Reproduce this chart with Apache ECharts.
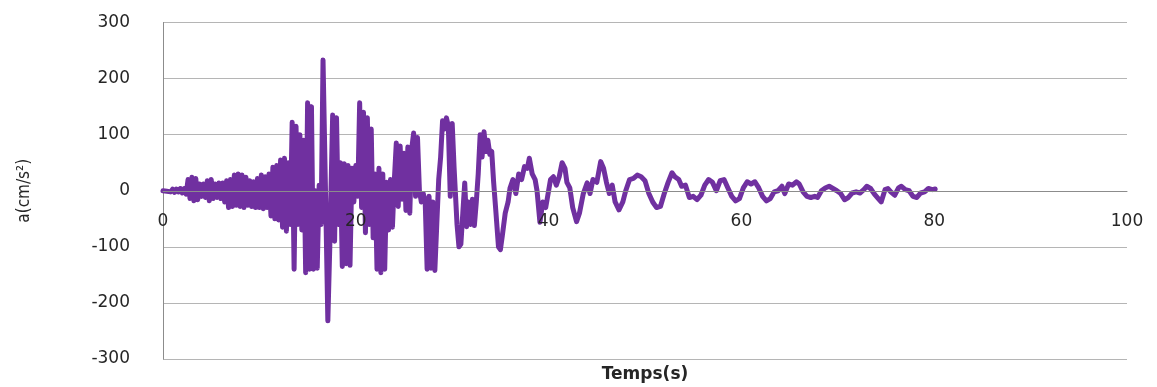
<!DOCTYPE html>
<html>
<head>
<meta charset="utf-8">
<script src="https://cdn.jsdelivr.net/npm/echarts@6/dist/echarts.min.js"></script>
<style>
html,body{margin:0;padding:0;background:#fff;}
#chart{width:1157px;height:387px;}
</style>
</head>
<body>
<div id="chart"></div>
<script>
// Time (s)
const times = [
0,0.2,0.4,0.6,0.8,1.0,1.2,1.4,1.6,1.8,2.0,2.2,2.4,
2.6,2.8,3.0,3.2,3.4,3.6,3.8,4.0,4.2,4.4,4.6,4.8,5.0,5.2,5.4,5.6,5.8,6.0,6.2,6.4,6.6,6.8,7.0,7.2,7.4,7.6,7.8,8.0,8.2,8.4,8.6,8.8,9.0,9.2,9.4,9.6,9.8,10.0,
10.2,10.4,10.6,10.8,11.0,11.2,11.4,11.6,11.8,12.0,12.2,12.4,12.6,12.8,13.0,13.2,13.4,13.6,13.8,14.0,14.2,14.4,14.6,14.8,15.0,15.2,15.4,15.6,15.8,16.0,16.2,16.4,16.6,16.9,17.1,17.3,17.6,17.8,18.0,18.2,18.4,18.6,18.8,19.0,19.2,19.4,19.6,19.8,20.0,
20.2,20.4,20.6,20.8,21.0,21.2,21.4,21.6,21.8,22.0,22.2,22.4,22.6,22.8,23.0,23.2,23.4,23.6,23.8,24.0,24.2,24.4,24.6,24.8,25.0,25.2,25.4,25.6,25.8,26.0,26.2,26.4,26.6,26.8,27.0,27.2,27.4,27.6,27.8,28.0,28.2,28.4,28.6,28.8,29.0,29.2,29.4,29.6,29.8,30.0,
30.2,30.5,30.7,30.9,31.1,31.3,31.5,31.7,31.9,32.1,32.3,32.5,32.7,32.9,33.1,33.3,33.5,33.7,33.9,34.1,34.3,34.5,34.8,35.0,35.2,35.5,35.8,36.0,36.3,36.6,36.9,37.2,37.5,37.8,38.0,38.3,38.6,38.8,39.1,39.4,39.7,39.9,
40.2,40.5,40.8,41.1,41.4,41.7,41.9,42.2,42.5,42.9,43.2,43.6,44.0,44.3,44.6,45.0,45.4,45.7,46.0,46.3,46.6,46.9,47.3,47.7,48.0,48.4,48.8,49.2,49.6,
50.0,50.4,50.8,51.2,51.6,52.0,52.4,52.8,53.1,53.5,53.8,54.2,54.6,55.0,55.4,55.8,56.2,56.6,57.0,57.4,57.8,58.2,58.6,59.0,59.4,59.8,
60.2,60.6,61.0,61.4,61.8,62.2,62.6,63.0,63.4,63.8,64.2,64.5,64.9,65.3,65.7,66.0,66.4,66.8,67.2,67.6,67.9,68.3,68.7,69.1,69.5,69.9,
70.3,70.7,71.1,71.5,71.9,72.3,72.7,73.0,73.4,73.8,74.2,74.5,74.9,75.2,75.5,75.9,76.3,76.6,77.0,77.4,77.8,78.2,78.6,79.0,79.4,79.8,80.1
];
// Acceleration (cm/s²)
const accel = [
0,1,-1,2,-2,3,-3,3,-2,4,-4,4,-6,
20,-14,24,-18,22,-16,12,-10,12,-12,18,-18,20,-14,12,-12,14,-14,14,-20,18,-30,20,-28,28,-26,30,-28,28,-30,24,-26,18,-28,16,-30,22,-30,
28,-32,25,-30,30,-45,42,-50,45,-52,55,-65,58,-72,50,-60,122,-140,115,-60,100,-70,90,-146,157,-140,150,-140,0,-138,10,-60,233,-40,-232,-100,135,-90,130,-60,50,-135,48,-130,45,-133,40,-20,45,
-10,157,-30,140,-75,130,-60,110,-84,30,-140,40,-146,30,-140,15,-70,20,-65,20,85,-28,80,-15,67,-35,78,-40,75,103,-10,95,0,-20,-5,-20,-140,-10,-138,-20,-142,-60,20,60,125,110,130,115,-10,120,
40,-60,-100,-95,-40,14,-64,-20,-60,-15,-62,-20,30,100,60,105,70,90,65,70,15,-30,-100,-105,-80,-40,-20,5,20,-5,30,20,43,40,58,30,20,0,-56,-20,-30,-10,
20,25,10,25,50,40,15,5,-30,-55,-40,-5,14,-5,20,15,52,40,15,-5,10,-20,-34,-20,0,20,22,28,25,
18,-5,-20,-30,-28,-5,15,32,25,20,8,10,-12,-10,-16,-8,10,20,15,0,18,20,5,-10,-18,-14,
5,16,12,16,5,-10,-18,-14,-2,0,8,-5,12,10,16,12,-2,-10,-12,-10,-12,0,5,8,4,0,
-5,-16,-12,-4,-2,-4,2,8,4,-6,-14,-20,2,4,-2,-8,5,8,2,0,-10,-12,-4,-2,4,2,3
];
const xTicks = [0, 20, 40, 60, 80, 100];
const yTicks = [-300, -200, -100, 0, 100, 200, 300];

const data = times.map((t, i) => [t, accel[i]]);

const chart = echarts.init(document.getElementById('chart'), null, {renderer: 'canvas'});
chart.setOption({
  animation: false,
  backgroundColor: '#ffffff',
  grid: {left: 163, right: 30, top: 22.5, bottom: 28, containLabel: false, outerBoundsMode: 'none'},
  xAxis: {
    type: 'value',
    position: 'bottom',
    offset: -168,
    z: 10,
    min: xTicks[0], max: xTicks[xTicks.length - 1], interval: 20,
    name: 'Temps(s)',
    nameLocation: 'middle',
    nameGap: 175,
    nameTextStyle: {fontFamily: 'DejaVu Sans', fontWeight: 'bold', fontSize: 17, color: '#262626'},
    axisLine: {show: true, onZero: false, lineStyle: {color: '#8c8c8c', width: 1}},
    axisTick: {show: false},
    splitLine: {show: false},
    axisLabel: {margin: 22, fontFamily: 'DejaVu Sans', fontSize: 17, color: '#262626'}
  },
  yAxis: {
    type: 'value',
    min: yTicks[0], max: yTicks[yTicks.length - 1], interval: 100,
    name: 'a(cm/s²)',
    nameLocation: 'middle',
    nameGap: 130,
    nameRotate: 90,
    nameTextStyle: {fontFamily: "'Liberation Sans Narrow', 'DejaVu Sans Condensed', Roboto", fontSize: 17, color: '#262626'},
    axisLine: {show: true, lineStyle: {color: '#8c8c8c', width: 1}},
    axisTick: {show: false},
    splitLine: {show: true, lineStyle: {color: '#b5b5b5', width: 1}},
    axisLabel: {margin: 33, fontFamily: 'DejaVu Sans', fontSize: 17, color: '#262626'}
  },
  series: [{
    type: 'line',
    z: 2,
    data: data,
    showSymbol: false,
    symbol: 'none',
    lineStyle: {color: '#7030A0', width: 5, join: 'round', cap: 'round'},
    itemStyle: {color: '#7030A0'}
  }]
});
</script>
</body>
</html>
